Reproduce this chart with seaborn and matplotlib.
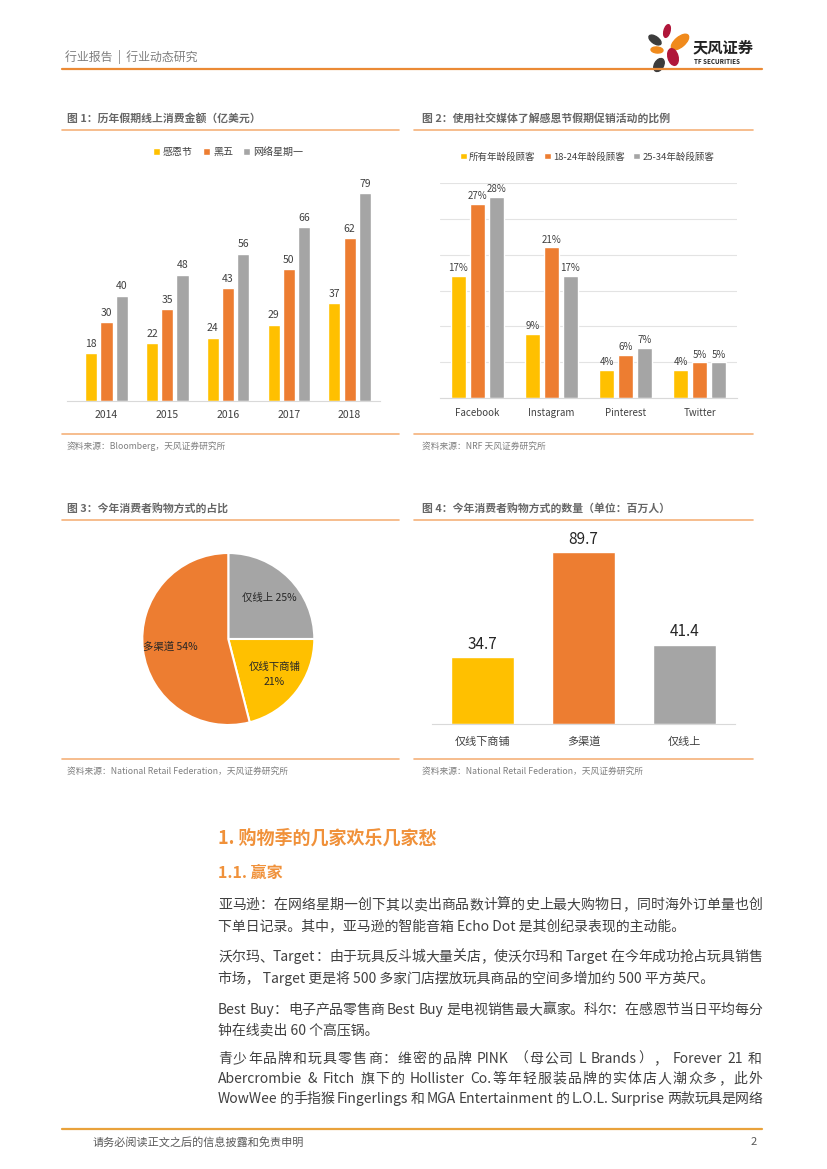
import re
import numpy as np
import pandas as pd
import matplotlib
matplotlib.use('Agg')
import matplotlib.pyplot as plt
from matplotlib.lines import Line2D
from matplotlib.patches import Ellipse
import seaborn as sns

# ---------------- data ----------------
years = ['2014', '2015', '2016', '2017', '2018']
series1 = ['感恩节', '黑五', '网络星期一']
thanksgiving = [18, 22, 24, 29, 37]
black_friday = [30, 35, 43, 50, 62]
cyber_monday = [40, 48, 56, 66, 79]

platforms = ['Facebook', 'Instagram', 'Pinterest', 'Twitter']
series2 = ['所有年龄段顾客', '18-24年龄段顾客', '25-34年龄段顾客']
all_ages = [17, 9, 4, 4]
age_18_24 = [27, 21, 6, 5]
age_25_34 = [28, 17, 7, 5]

pie_labels = ['仅线上', '仅线下商铺', '多渠道']
pie_shares = [25, 21, 54]

channels = ['仅线下商铺', '多渠道', '仅线上']
channel_counts = [34.7, 89.7, 41.4]

YELLOW, ORANGE, GRAY = '#FFC000', '#ED7D31', '#A5A5A5'
LINE_OR = '#F5B27A'
TXT = '#404040'

sns.set_theme(style='white')
plt.rcParams['font.family'] = ['Noto Sans CJK SC', 'DejaVu Sans']
plt.rcParams['axes.unicode_minus'] = False

W, H = 827, 1169
fig = plt.figure(figsize=(8.27, 11.69), dpi=100)


def ax_px(x0, y0, x1, y1):
    return fig.add_axes([x0 / W, 1 - y1 / H, (x1 - x0) / W, (y1 - y0) / H])


def ftxt(x, y, s, **kw):
    kw.setdefault('va', 'center')
    return fig.text(x / W, 1 - y / H, s, **kw)


def hline(x0, x1, y, color=LINE_OR, lw=1.2):
    fig.add_artist(Line2D([x0 / W, x1 / W], [1 - y / H, 1 - y / H], color=color, lw=lw))


def style_bar_ax(ax, pad, size):
    for s in ['top', 'right', 'left']:
        ax.spines[s].set_visible(False)
    ax.spines['bottom'].set_color('#D9D9D9')
    ax.spines['bottom'].set_linewidth(0.8)
    ax.set_xlabel('')
    ax.set_ylabel('')
    ax.tick_params(axis='x', length=0, pad=pad, labelsize=size, labelcolor=TXT)
    ax.tick_params(axis='y', length=0, labelleft=False)
    ax.set_facecolor('none')


# ---------------- header ----------------
ftxt(65, 57, '行业报告  |  行业动态研究', fontsize=8.6, color='#7F7F7F')
hline(62, 762, 68.7, color='#EB8A35', lw=1.6)

axl = ax_px(640, 22, 770, 74)
axl.set_xlim(640, 770)
axl.set_ylim(74, 22)
axl.axis('off')
for (cx, cy, w, h, ang, col) in [
        (667, 31, 6, 13, 15, '#B0163A'),
        (655, 40, 7, 14, -55, '#3C3C3C'),
        (680, 42, 10, 21, 50, '#F08A1C'),
        (657, 50, 6, 12, -85, '#F08A1C'),
        (673, 57, 10, 17, -15, '#B0163A'),
        (659, 65, 9, 14, 30, '#3C3C3C')]:
    axl.add_patch(Ellipse((cx, cy), w, h, angle=ang, color=col))
ftxt(693, 47, '天风证券', fontsize=11, fontweight='bold', color='#222222')
ftxt(694, 62, 'TF SECURITIES', fontsize=4.5, fontweight='bold', color='#222222')

# ---------------- chart titles / rules / sources ----------------
TSTY = dict(fontsize=7.8, fontweight='bold', color='#666666')
ftxt(67, 118, '图 1：历年假期线上消费金额（亿美元）', **TSTY)
ftxt(422, 118, '图 2：使用社交媒体了解感恩节假期促销活动的比例', **TSTY)
ftxt(67, 508, '图 3：今年消费者购物方式的占比', **TSTY)
ftxt(422, 508, '图 4：今年消费者购物方式的数量（单位：百万人）', **TSTY)
for y in (130, 434, 519.5, 758.5):
    hline(62, 399, y)
    hline(414, 753, y)
SSTY = dict(fontsize=6.3, color='#7F7F7F')
ftxt(67, 446.5, '资料来源：Bloomberg，天风证券研究所', **SSTY)
ftxt(422, 446.5, '资料来源：NRF 天风证券研究所', **SSTY)
ftxt(67, 771, '资料来源：National Retail Federation，天风证券研究所', **SSTY)
ftxt(422, 771, '资料来源：National Retail Federation，天风证券研究所', **SSTY)

# ---------------- chart 1 ----------------
df1 = pd.DataFrame({'year': years * 3,
                    'series': np.repeat(series1, len(years)),
                    'value': thanksgiving + black_friday + cyber_monday})
ax1 = ax_px(67, 180, 380, 400.7)
sns.barplot(data=df1, x='year', y='value', hue='series', hue_order=series1,
            palette=[YELLOW, ORANGE, GRAY], width=0.75, gap=0.2,
            saturation=1, errorbar=None, ax=ax1)
ax1.set_xlim(-0.65, 4.5)
ax1.set_ylim(0, 84)
style_bar_ax(ax1, 7, 7.5)
for c in ax1.containers:
    ax1.bar_label(c, fmt='%d', padding=3, fontsize=7.5, color=TXT)
sns.move_legend(ax1, 'center', bbox_to_anchor=((228 - 67) / 313, (400.7 - 152) / 220.7),
                ncol=3, frameon=False, title=None, fontsize=7.2,
                handlelength=0.7, handleheight=0.7, handletextpad=0.3, columnspacing=1.0)
for t in ax1.get_legend().get_texts():
    t.set_color(TXT)

# ---------------- chart 2 ----------------
df2 = pd.DataFrame({'platform': platforms * 3,
                    'series': np.repeat(series2, len(platforms)),
                    'value': all_ages + age_18_24 + age_25_34})
ax2 = ax_px(440, 182.7, 737, 398.3)
sns.barplot(data=df2, x='platform', y='value', hue='series', hue_order=series2,
            palette=[YELLOW, ORANGE, GRAY], width=0.765, gap=0.21,
            saturation=1, errorbar=None, ax=ax2)
ax2.set_xlim(-0.5, 3.5)
ax2.set_ylim(0, 30)
ax2.set_yticks(range(0, 31, 5))
ax2.yaxis.grid(True, color='#E3E3E3', lw=0.8)
ax2.set_axisbelow(True)
style_bar_ax(ax2, 7, 7)
for c in ax2.containers:
    ax2.bar_label(c, fmt='%d%%', padding=2, fontsize=7, color=TXT)
sns.move_legend(ax2, 'center', bbox_to_anchor=((587 - 440) / 297, (398.3 - 156.7) / 215.6),
                ncol=3, frameon=False, title=None, fontsize=6.8,
                handlelength=0.7, handleheight=0.7, handletextpad=0.25, columnspacing=0.9)
for t in ax2.get_legend().get_texts():
    t.set_color(TXT)

# ---------------- chart 3 (pie) ----------------
ax3 = ax_px(142.3, 553, 314.3, 725)
wedges, texts = ax3.pie(pie_shares,
                        labels=[f'{n} {v}%' if len(n) < 5 else f'{n}\n{v}%'
                                for n, v in zip(pie_labels, pie_shares)],
                        colors=[GRAY, YELLOW, ORANGE], startangle=90, counterclock=False,
                        labeldistance=0.68,
                        wedgeprops=dict(edgecolor='white', linewidth=1.5),
                        textprops=dict(fontsize=7.5, color='#262626'))
for t in texts:
    t.set_ha('center')
    t.set_multialignment('center')
    t.set_linespacing(1.6)
ax3.set_xlim(-1, 1)
ax3.set_ylim(-1, 1)

# ---------------- chart 4 ----------------
ax4 = ax_px(432, 540, 735, 724)
sns.barplot(x=channels, y=channel_counts, hue=channels, hue_order=channels,
            palette=[YELLOW, ORANGE, GRAY], width=0.62, saturation=1,
            legend=False, errorbar=None, ax=ax4)
ax4.set_xlim(-0.5, 2.5)
ax4.set_ylim(0, 96)
style_bar_ax(ax4, 9, 8)
for c in ax4.containers:
    ax4.bar_label(c, fmt='%.1f', padding=3, fontsize=11, color='#262626')

# ---------------- body text ----------------
ftxt(218, 838, '1. 购物季的几家欢乐几家愁', fontsize=13, fontweight='bold', color='#F0913A')
ftxt(218, 873, '1.1. 赢家', fontsize=11.5, fontweight='bold', color='#F0913A')

body = [
    (905, '亚马逊：在网络星期一创下其以卖出商品数计算的史上最大购物日，同时海外订单量也创', True),
    (926, '下单日记录。其中，亚马逊的智能音箱 Echo Dot 是其创纪录表现的主动能。', False),
    (957, '沃尔玛、Target：由于玩具反斗城大量关店，使沃尔玛和 Target 在今年成功抢占玩具销售', True),
    (978, '市场， Target 更是将 500 多家门店摆放玩具商品的空间多增加约 500 平方英尺。', False),
    (1010, 'Best Buy：电子产品零售商 Best Buy 是电视销售最大赢家。科尔：在感恩节当日平均每分', True),
    (1030, '钟在线卖出 60 个高压锅。', False),
    (1059, '青少年品牌和玩具零售商：维密的品牌 PINK （母公司 L Brands）， Forever 21 和', True),
    (1079, 'Abercrombie & Fitch 旗下的 Hollister Co.等年轻服装品牌的实体店人潮众多，此外', True),
    (1099, 'WowWee 的手指猴 Fingerlings 和 MGA Entertainment 的 L.O.L. Surprise 两款玩具是网络', True),
]
renderer = fig.canvas.get_renderer()
BSTY = dict(fontsize=10, color=TXT)
X0, X1 = 218, 762
for y, line, justify in body:
    if not justify:
        ftxt(X0, y, line, **BSTY)
        continue
    tokens = re.findall(r'[A-Za-z0-9.&\-]+| +|.', line)
    widths = []
    for tk in tokens:
        if tk.strip() == '':
            t = ftxt(0, 0, 'a a', **BSTY)
            wa = t.get_window_extent(renderer).width
            t.set_text('aa')
            wb = t.get_window_extent(renderer).width
            t.remove()
            widths.append(wa - wb)
        else:
            t = ftxt(0, 0, tk, **BSTY)
            widths.append(t.get_window_extent(renderer).width)
            t.remove()
    extra = (X1 - X0) - sum(widths)
    gap = extra / max(len(tokens) - 1, 1)
    x = X0
    for tk, w in zip(tokens, widths):
        if tk.strip() != '':
            ftxt(x, y, tk, **BSTY)
        x += w + gap

# ---------------- footer ----------------
hline(62, 762, 1129, color='#E9A23B', lw=1.6)
ftxt(93, 1142, '请务必阅读正文之后的信息披露和免责申明', fontsize=8, color='#595959')
ftxt(757, 1142, '2', fontsize=8, color='#595959', ha='right')

fig.savefig('out.png', dpi=100)
